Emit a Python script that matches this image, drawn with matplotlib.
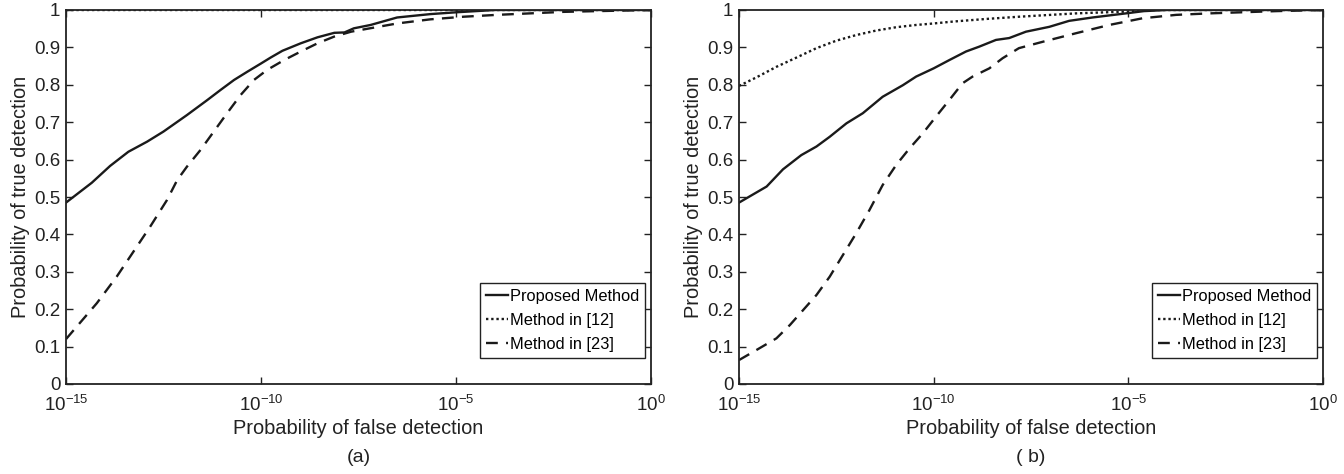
import numpy as np
import matplotlib
matplotlib.use("Agg")
import matplotlib.pyplot as plt

plt.rcParams['font.family'] = ['Liberation Sans', 'DejaVu Sans']
plt.rcParams['mathtext.fontset'] = 'custom'
plt.rcParams['mathtext.rm'] = 'Liberation Sans'
plt.rcParams['mathtext.it'] = 'Liberation Sans'

# ---- data (log10 of false-detection probability, true-detection probability)
a_prop_x = [-15, -14.34, -13.87, -13.40, -12.92, -12.50, -11.90, -11.38, -11.04, -10.69, -10.35, -10.0,
            -9.75, -9.45, -8.98, -8.55, -8.12, -7.86, -7.62, -7.19, -6.51, -5.66, -4.98, -4.0, 0]
a_prop_y = [0.485, 0.538, 0.583, 0.621, 0.648, 0.675, 0.719, 0.759, 0.786, 0.813, 0.835, 0.857,
            0.873, 0.891, 0.911, 0.927, 0.939, 0.940, 0.951, 0.960, 0.980, 0.989, 0.994, 1.0, 1.0]
a_m12_x = [-15, 0]
a_m12_y = [1.0, 1.0]
a_m23_x = [-15, -14.21, -13.70, -13.27, -12.84, -12.41, -12.15, -11.90, -11.55, -11.21, -10.87, -10.52,
           -10.18, -9.84, -9.41, -8.98, -8.55, -8.12, -7.69, -7.37, -6.51, -5.66, -4.81, -3.95, -3.10,
           -2.25, -1.39, 0]
a_m23_y = [0.120, 0.216, 0.287, 0.354, 0.421, 0.492, 0.545, 0.581, 0.626, 0.675, 0.724, 0.773,
           0.813, 0.840, 0.866, 0.889, 0.911, 0.929, 0.942, 0.948, 0.964, 0.975, 0.982, 0.987, 0.991,
           0.995, 0.997, 1.0]

b_prop_x = [-15, -14.29, -13.87, -13.40, -13.01, -12.67, -12.24, -11.82, -11.31, -10.79, -10.45, -10.0,
            -9.60, -9.17, -8.83, -8.40, -8.06, -7.63, -7.03, -6.52, -5.92, -5.06, -4.6, -4.0, 0]
b_prop_y = [0.485, 0.528, 0.574, 0.612, 0.635, 0.661, 0.697, 0.724, 0.768, 0.799, 0.822, 0.844,
            0.866, 0.889, 0.902, 0.920, 0.925, 0.942, 0.955, 0.971, 0.980, 0.991, 0.997, 1.0, 1.0]
b_m12_x = [-15, -14.55, -14.04, -13.52, -13.01, -12.50, -11.99, -11.48, -10.96, -10.45, -10.0, -9.51,
           -8.66, -7.81, -6.34, -5.0, -4.5, 0]
b_m12_y = [0.797, 0.820, 0.848, 0.873, 0.898, 0.918, 0.933, 0.945, 0.954, 0.960, 0.964, 0.969,
           0.976, 0.982, 0.991, 0.996, 1.0, 1.0]
b_m23_x = [-15, -14.55, -14.04, -13.69, -13.35, -13.01, -12.67, -12.33, -11.99, -11.65, -11.31, -10.96,
           -10.62, -10.28, -9.94, -9.60, -9.26, -9.00, -8.57, -8.23, -7.81, -7.20, -6.34, -5.49, -4.63,
           -3.77, -2.91, -2.06, -1.20, 0]
b_m23_y = [0.064, 0.091, 0.122, 0.158, 0.198, 0.238, 0.287, 0.345, 0.403, 0.465, 0.532, 0.586,
           0.630, 0.670, 0.715, 0.759, 0.804, 0.822, 0.844, 0.871, 0.898, 0.915, 0.938, 0.960, 0.978,
           0.987, 0.991, 0.994, 0.997, 1.0]

x_ticks = [1e-15, 1e-10, 1e-5, 1e0]
x_tick_labels = [r'$10^{-15}$', r'$10^{-10}$', r'$10^{-5}$', r'$10^{0}$']
y_ticks = [0, 0.1, 0.2, 0.3, 0.4, 0.5, 0.6, 0.7, 0.8, 0.9, 1]
y_tick_labels = ['0', '0.1', '0.2', '0.3', '0.4', '0.5', '0.6', '0.7', '0.8', '0.9', '1']
labels = ['Proposed Method', 'Method in [12]', 'Method in [23]']
panel_titles = ['(a)', '( b)']

fig = plt.figure(figsize=(13.44, 4.74), dpi=100)
ax1 = fig.add_axes([66/1344, 1-384/474, (651-66)/1344, 374/474])
ax2 = fig.add_axes([739/1344, 1-384/474, (1323-739)/1344, 374/474])

panels = [
    (ax1, a_prop_x, a_prop_y, a_m12_x, a_m12_y, a_m23_x, a_m23_y),
    (ax2, b_prop_x, b_prop_y, b_m12_x, b_m12_y, b_m23_x, b_m23_y),
]
lw = 1.7
col = '#1a1a1a'
for i, (ax, px, py, mx, my, dx, dy) in enumerate(panels):
    ax.plot(10.0**np.array(px), py, color=col, lw=lw, ls='-', label=labels[0])
    ax.plot(10.0**np.array(mx), my, color=col, lw=lw, ls=(0, (1, 1.2)), label=labels[1])
    ax.plot(10.0**np.array(dx), dy, color=col, lw=lw, ls=(0, (5, 3.5)), label=labels[2])
    ax.set_xscale('log')
    ax.set_xlim(1e-15, 1)
    ax.set_ylim(0, 1)
    ax.set_xticks(x_ticks)
    ax.set_xticklabels(x_tick_labels)
    ax.xaxis.set_minor_locator(matplotlib.ticker.NullLocator())
    ax.set_yticks(y_ticks)
    ax.set_yticklabels(y_tick_labels)
    ax.tick_params(direction='in', top=True, right=True, length=5, width=1.0,
                   labelsize=13.5, colors='#222222', pad=4)
    ax.tick_params(axis='x', pad=8)
    for s in ax.spines.values():
        s.set_linewidth(1.3)
        s.set_color('#222222')
    ax.set_xlabel('Probability of false detection', fontsize=14.4, color='#222222', labelpad=3)
    ax.set_ylabel('Probability of true detection', fontsize=14.4, color='#222222', labelpad=3)
    leg = ax.legend(loc='lower right', bbox_to_anchor=(0.99, 0.07), fontsize=11.8,
                    handlelength=1.35, handletextpad=0.15, borderpad=0.35, labelspacing=0.55,
                    fancybox=False, framealpha=1, edgecolor='#222222', borderaxespad=0)
    leg.get_frame().set_linewidth(1.0)
    ax.text(0.5, (384 - 458) / 374, panel_titles[i], transform=ax.transAxes, ha='center',
            va='center', fontsize=14, color='#222222')

fig.savefig('out.png', dpi=100)
